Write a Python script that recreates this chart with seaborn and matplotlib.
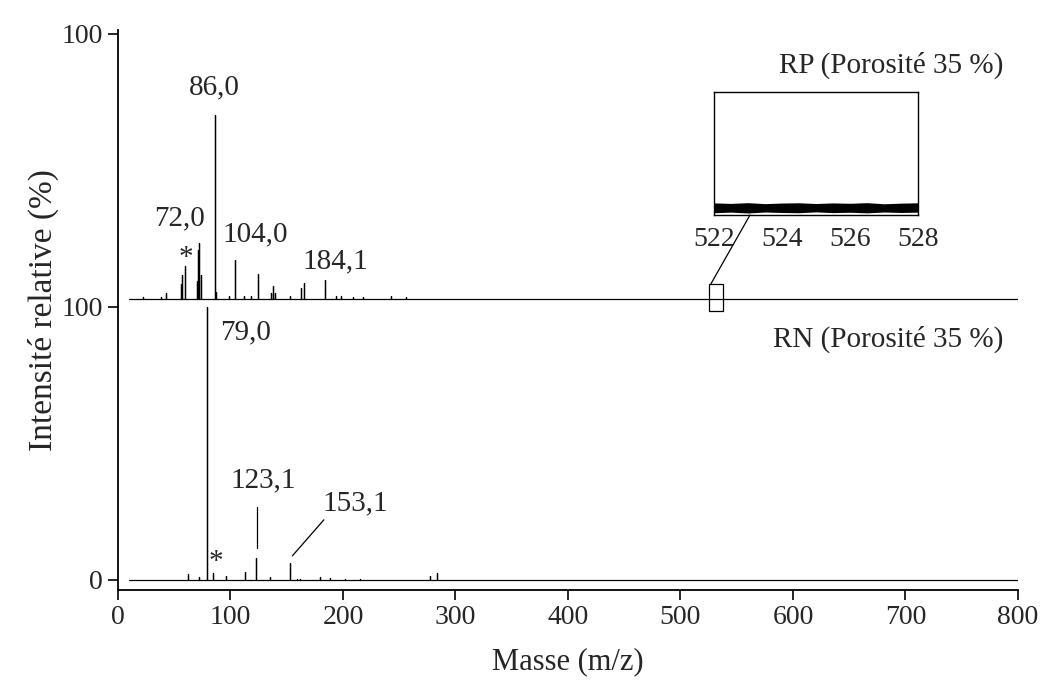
import matplotlib
matplotlib.use("Agg")
import matplotlib.pyplot as plt
import seaborn as sns
from matplotlib.patches import Rectangle, ConnectionPatch

# RP spectrum (top): m/z and relative intensity (%)
rp_mz = [22.5, 38, 42.7, 56, 57, 59.6, 70, 70.8, 72, 74, 86.2, 86.8, 98.7, 103.7,
         112, 118, 124.7, 136, 138, 139.6, 152.9, 162.4, 165.6, 184, 193.5, 197.9,
         209, 218, 243, 255.7]
rp_int = [0.5, 0.5, 2.3, 5.4, 9, 12.3, 6.6, 18.5, 21, 9, 69.5, 2.5, 1, 14.5,
          1, 1, 9.5, 2, 4.7, 2, 1, 4.1, 6, 6.9, 1, 1,
          0.5, 0.5, 1, 0.5]

# RN spectrum (bottom)
rn_mz = [62.5, 72.3, 79.0, 84.7, 96, 113, 123.1, 135, 153.1, 159, 161.8,
         179.6, 188.4, 201.8, 215, 277.3, 283.8]
rn_int = [2.2, 1, 100, 2.7, 1.5, 3, 7.9, 1, 6.1, 0.5, 0.5,
          1, 0.7, 0.5, 0.5, 1.6, 2.7]

# zoomed noise band 522-528 (envelope)
noise_mz = [522, 522.5, 523, 523.5, 524, 524.5, 525, 525.5, 526, 526.5, 527, 527.5, 528]
noise_lo = [1.8, 2.3, 1.6, 2.4, 2.0, 1.8, 2.5, 1.9, 2.2, 1.7, 2.4, 2.0, 2.3]
noise_hi = [9.8, 9.4, 10.0, 9.2, 9.7, 9.9, 9.3, 9.8, 9.5, 10.0, 9.1, 9.6, 9.9]

x_ticks = [0, 100, 200, 300, 400, 500, 600, 700, 800]
inset_ticks = [522, 524, 526, 528]

TOP_BASE = 103
TOP_SCALE = (200 - TOP_BASE) / 100


def sticks(mz, inten, base, scale):
    """Turn peak list into a stick spectrum polyline"""
    xs, ys = [10], [base]
    for m, h in zip(mz, inten):
        xs += [m, m, m]
        ys += [base, base + h * scale, base]
    xs.append(800)
    ys.append(base)
    return xs, ys


sns.set_theme(style="ticks")
plt.rcParams['font.family'] = ['Liberation Serif', 'DejaVu Serif']

fig = plt.figure(figsize=(10.46, 6.82), dpi=100)
ax = fig.add_axes([0.1128, 0.1349, 0.8604, 0.8214])

xs, ys = sticks(rn_mz, rn_int, 0, 1.0)
sns.lineplot(x=xs, y=ys, sort=False, estimator=None, color='black', lw=0.9, ax=ax)
xs, ys = sticks(rp_mz, rp_int, TOP_BASE, TOP_SCALE)
sns.lineplot(x=xs, y=ys, sort=False, estimator=None, color='black', lw=0.9, ax=ax)

ax.set_xlim(0, 800)
ax.set_ylim(-3.7, 201.5)
ax.set_xticks(x_ticks)
ax.set_xticklabels([str(t) for t in x_ticks], fontsize=20)
ax.set_yticks([0, 100, 200])
ax.set_yticklabels(['0', '100', '100'], fontsize=20)
ax.tick_params(axis='both', direction='out', length=7, width=1.2, color='black', pad=4)
ax.set_xlabel('Masse (m/z)', fontsize=22, labelpad=12)
ax.set_ylabel('Intensité relative (%)', fontsize=24, labelpad=2)
sns.despine(ax=ax)
for s in ['left', 'bottom']:
    ax.spines[s].set_linewidth(1.3)
    ax.spines[s].set_color('black')

# peak labels
fs = 21
ax.text(86, 180.5, '86,0', fontsize=fs, ha='center', va='center')
ax.text(55, 132.6, '72,0', fontsize=fs, ha='center', va='center')
ax.text(60, 118, '*', fontsize=fs, ha='center', va='center')
ax.text(122, 126.4, '104,0', fontsize=fs, ha='center', va='center')
ax.text(193, 116.5, '184,1', fontsize=fs, ha='center', va='center')
ax.text(113, 90.5, '79,0', fontsize=fs, ha='center', va='center')
ax.text(87, 6.5, '*', fontsize=fs, ha='center', va='center')
ax.text(129, 36.6, '123,1', fontsize=fs, ha='center', va='center')
ax.text(211, 28.2, '153,1', fontsize=fs, ha='center', va='center')
ax.plot([123.5, 123.5], [11.7, 26.7], color='black', lw=0.9)
ax.plot([155, 183], [8.8, 22], color='black', lw=0.9)

ax.text(787, 188.5, 'RP (Porosité 35 %)', fontsize=fs, ha='right', va='center')
ax.text(787, 88, 'RN (Porosité 35 %)', fontsize=fs, ha='right', va='center')

# zoom marker
ax.add_patch(Rectangle((525.3, 98.5), 12.5, 9.9, fill=False, ec='black', lw=0.9, zorder=5))

# inset
axin = fig.add_axes([0.6826, 0.6848, 0.195, 0.1804])
axin.fill_between(noise_mz, noise_lo, noise_hi, color='black', lw=0)
axin.set_xlim(522, 528)
axin.set_ylim(0, 100)
axin.set_xticks(inset_ticks)
axin.set_xticklabels([str(t) for t in inset_ticks], fontsize=20)
axin.set_yticks([])
axin.tick_params(axis='x', length=0, pad=9)
for s in axin.spines.values():
    s.set_linewidth(1.0)
    s.set_color('black')

con = ConnectionPatch(xyA=(527, 108.4), coordsA=ax.transData,
                      xyB=(523.06, 0), coordsB=axin.transData,
                      color='black', lw=0.9)
fig.add_artist(con)

fig.savefig('out.png', dpi=100)
